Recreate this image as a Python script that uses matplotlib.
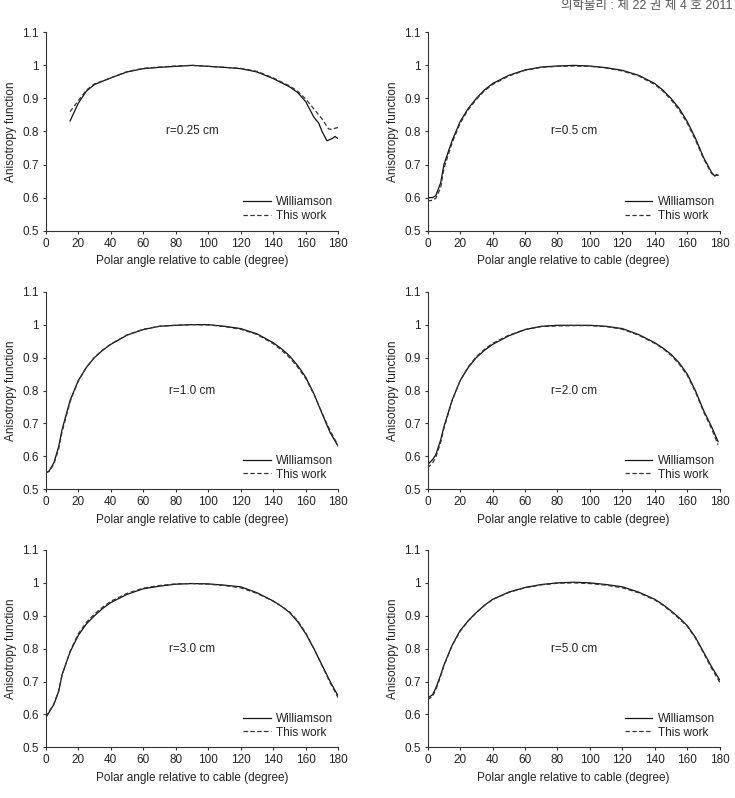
import matplotlib
matplotlib.use("Agg")
import matplotlib.pyplot as plt

plt.rcParams['font.family'] = ['Liberation Sans', 'Noto Sans CJK KR', 'DejaVu Sans']

# r = 0.25 cm
ang_025 = [15, 20, 25, 30, 35, 40, 50, 60, 70, 80, 90, 100, 110, 120, 130, 140, 150, 155, 160, 165, 168, 170, 173, 176, 178, 180]
will_025 = [0.832, 0.885, 0.922, 0.942, 0.952, 0.962, 0.980, 0.990, 0.994, 0.997, 1.000, 0.997, 0.994, 0.990, 0.980, 0.960, 0.935, 0.918, 0.890, 0.843, 0.825, 0.800, 0.772, 0.778, 0.785, 0.778]
ang_025b = [15, 20, 25, 30, 35, 40, 50, 60, 70, 80, 90, 100, 110, 120, 130, 140, 150, 155, 160, 165, 170, 174, 176, 178, 180]
this_025 = [0.860, 0.893, 0.925, 0.944, 0.953, 0.962, 0.981, 0.991, 0.995, 0.998, 1.000, 0.997, 0.994, 0.991, 0.982, 0.962, 0.938, 0.922, 0.898, 0.868, 0.838, 0.808, 0.806, 0.810, 0.812]

# r = 0.5 cm
ang_05 = [0, 3, 5, 8, 10, 15, 20, 25, 30, 35, 40, 50, 60, 70, 80, 90, 100, 110, 120, 130, 140, 145, 150, 155, 160, 165, 170, 175, 177, 178, 179]
will_05 = [0.600, 0.600, 0.606, 0.645, 0.700, 0.772, 0.830, 0.870, 0.900, 0.926, 0.945, 0.970, 0.986, 0.995, 0.998, 1.000, 0.998, 0.993, 0.985, 0.970, 0.945, 0.925, 0.900, 0.870, 0.830, 0.780, 0.722, 0.676, 0.665, 0.670, 0.668]
this_05 = [0.590, 0.592, 0.598, 0.630, 0.688, 0.765, 0.825, 0.866, 0.897, 0.923, 0.942, 0.968, 0.985, 0.994, 0.997, 0.998, 0.997, 0.992, 0.983, 0.968, 0.942, 0.922, 0.896, 0.865, 0.825, 0.775, 0.718, 0.673, 0.665, 0.668, 0.667]

# r = 1.0 cm
ang_10 = [0, 2, 5, 8, 10, 15, 20, 25, 30, 35, 40, 50, 60, 70, 80, 90, 100, 110, 120, 130, 140, 145, 150, 155, 160, 165, 170, 175, 180]
will_10 = [0.550, 0.555, 0.580, 0.630, 0.680, 0.770, 0.830, 0.870, 0.900, 0.922, 0.940, 0.968, 0.985, 0.995, 0.998, 1.000, 1.000, 0.995, 0.988, 0.972, 0.945, 0.927, 0.905, 0.876, 0.840, 0.790, 0.730, 0.672, 0.630]
this_10 = [0.550, 0.554, 0.576, 0.623, 0.673, 0.766, 0.828, 0.870, 0.901, 0.923, 0.941, 0.969, 0.986, 0.995, 0.998, 1.000, 0.999, 0.994, 0.986, 0.970, 0.942, 0.923, 0.900, 0.871, 0.836, 0.788, 0.732, 0.678, 0.632]

# r = 2.0 cm
ang_20 = [0, 3, 5, 8, 10, 15, 20, 25, 30, 35, 40, 50, 60, 70, 80, 90, 100, 110, 120, 130, 140, 145, 150, 155, 160, 165, 170, 175, 179]
will_20 = [0.575, 0.590, 0.605, 0.650, 0.690, 0.770, 0.830, 0.870, 0.900, 0.922, 0.940, 0.966, 0.985, 0.995, 0.998, 0.998, 0.998, 0.995, 0.988, 0.970, 0.945, 0.929, 0.910, 0.884, 0.850, 0.800, 0.740, 0.690, 0.645]
this_20 = [0.565, 0.580, 0.597, 0.642, 0.685, 0.768, 0.830, 0.872, 0.903, 0.925, 0.943, 0.968, 0.985, 0.994, 0.996, 0.997, 0.997, 0.994, 0.986, 0.968, 0.943, 0.927, 0.907, 0.880, 0.846, 0.796, 0.736, 0.684, 0.635]

# r = 3.0 cm
ang_30 = [0, 5, 8, 10, 15, 20, 25, 30, 35, 40, 50, 60, 70, 80, 90, 100, 110, 120, 130, 140, 145, 150, 155, 160, 165, 170, 175, 180]
will_30 = [0.590, 0.630, 0.670, 0.720, 0.790, 0.840, 0.875, 0.900, 0.922, 0.940, 0.965, 0.982, 0.990, 0.996, 0.998, 0.997, 0.993, 0.988, 0.970, 0.945, 0.929, 0.910, 0.882, 0.845, 0.800, 0.750, 0.700, 0.655]
this_30 = [0.592, 0.632, 0.672, 0.718, 0.792, 0.845, 0.880, 0.905, 0.926, 0.944, 0.968, 0.984, 0.992, 0.997, 0.998, 0.996, 0.992, 0.985, 0.968, 0.944, 0.929, 0.912, 0.885, 0.848, 0.800, 0.748, 0.696, 0.650]

# r = 5.0 cm
ang_50 = [0, 3, 5, 8, 10, 15, 20, 25, 30, 35, 40, 50, 60, 70, 80, 90, 100, 110, 120, 130, 140, 145, 150, 155, 160, 165, 170, 175, 180]
will_50 = [0.650, 0.660, 0.680, 0.720, 0.750, 0.810, 0.855, 0.885, 0.910, 0.932, 0.950, 0.972, 0.986, 0.995, 1.000, 1.002, 1.000, 0.995, 0.988, 0.972, 0.950, 0.934, 0.915, 0.894, 0.870, 0.835, 0.790, 0.745, 0.705]
this_50 = [0.645, 0.655, 0.675, 0.716, 0.748, 0.808, 0.853, 0.884, 0.910, 0.931, 0.949, 0.971, 0.985, 0.994, 0.999, 1.000, 0.998, 0.993, 0.985, 0.970, 0.948, 0.932, 0.913, 0.891, 0.868, 0.832, 0.787, 0.740, 0.698]

panels = [
    ("r=0.25 cm", ang_025, will_025, ang_025b, this_025),
    ("r=0.5 cm", ang_05, will_05, ang_05, this_05),
    ("r=1.0 cm", ang_10, will_10, ang_10, this_10),
    ("r=2.0 cm", ang_20, will_20, ang_20, this_20),
    ("r=3.0 cm", ang_30, will_30, ang_30, this_30),
    ("r=5.0 cm", ang_50, will_50, ang_50, this_50),
]

fig = plt.figure(figsize=(7.35, 7.98), dpi=100)

W, H = 735.0, 798.0
lefts = [45.7, 427.7]
widths = [292.6, 292.0]
tops = [32.3, 291.7, 550.0]
bottoms = [230.7, 489.3, 747.3]

txt = '#222222'
fs = 8.5
for i, (label, xw, yw, xt, yt) in enumerate(panels):
    row, col = divmod(i, 2)
    ax = fig.add_axes([lefts[col] / W, 1 - bottoms[row] / H,
                       widths[col] / W, (bottoms[row] - tops[row]) / H])
    ax.plot(xw, yw, color='#111111', lw=0.9, label='Williamson')
    ax.plot(xt, yt, color='#333333', lw=0.9, ls=(0, (3.5, 2)), label='This work')
    ax.set_xlim(0, 180)
    ax.set_ylim(0.5, 1.1)
    ax.set_xticks(range(0, 181, 20))
    ax.set_yticks([0.5, 0.6, 0.7, 0.8, 0.9, 1.0, 1.1])
    ax.set_yticklabels(['0.5', '0.6', '0.7', '0.8', '0.9', '1', '1.1'])
    ax.spines['top'].set_visible(False)
    ax.spines['right'].set_visible(False)
    for s in ('left', 'bottom'):
        ax.spines[s].set_linewidth(0.8)
        ax.spines[s].set_color('#333333')
    ax.tick_params(direction='out', length=2.5, width=0.8, labelsize=fs,
                   colors='#333333', labelcolor=txt, pad=2.5)
    ax.set_xlabel('Polar angle relative to cable (degree)', fontsize=fs, color=txt, labelpad=4)
    ax.set_ylabel('Anisotropy function', fontsize=fs, color=txt, labelpad=4)
    ax.text(90, 0.8, label, ha='center', va='center', fontsize=fs, color=txt)
    leg = ax.legend(loc='lower right', frameon=False, fontsize=fs, handlelength=2.3,
                    handletextpad=0.5, labelspacing=0.15, borderaxespad=0.0,
                    bbox_to_anchor=(1.0, 0.02))
    for t in leg.get_texts():
        t.set_color(txt)

fig.text(0.997, 0.993, '의학물리 : 제 22 권 제 4 호 2011', ha='right', va='center',
         fontsize=9, color='#555555')

fig.savefig('out.png', dpi=100)
